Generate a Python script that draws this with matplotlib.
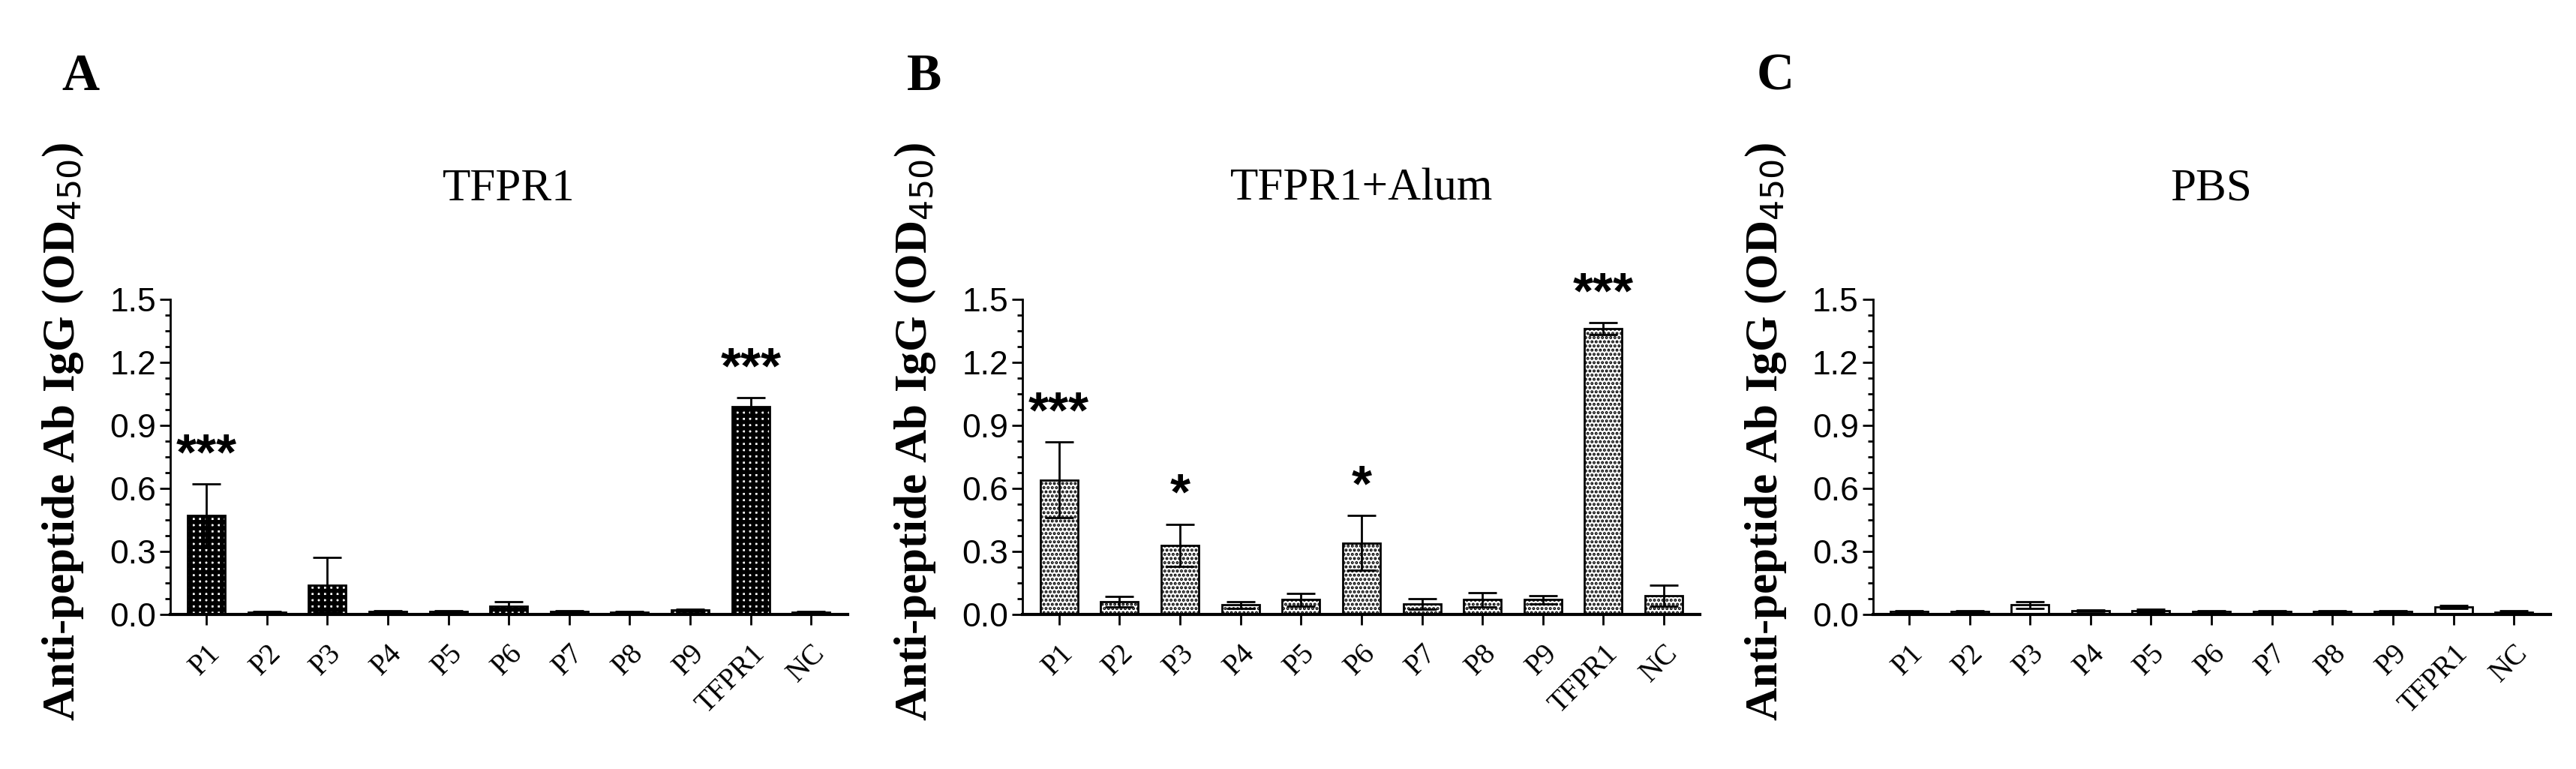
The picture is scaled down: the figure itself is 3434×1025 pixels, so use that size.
import numpy as np
import matplotlib
matplotlib.use('Agg')
import matplotlib.pyplot as plt
from matplotlib.ticker import AutoMinorLocator

categories = ['P1', 'P2', 'P3', 'P4', 'P5', 'P6', 'P7', 'P8', 'P9', 'TFPR1', 'NC']

titles = ['TFPR1', 'TFPR1+Alum', 'PBS']
letters = ['A', 'B', 'C']

vals_a = [0.47, 0.012, 0.14, 0.015, 0.015, 0.04, 0.015, 0.012, 0.02, 0.99, 0.01]
err_a = [0.15, 0.003, 0.13, 0.004, 0.004, 0.02, 0.003, 0.003, 0.005, 0.04, 0.004]
stars_a = ['***', '', '', '', '', '', '', '', '', '***', '']

vals_b = [0.64, 0.06, 0.33, 0.045, 0.07, 0.34, 0.05, 0.07, 0.07, 1.36, 0.09]
err_b = [0.18, 0.025, 0.10, 0.015, 0.03, 0.13, 0.025, 0.035, 0.02, 0.03, 0.05]
stars_b = ['***', '', '*', '', '', '*', '', '', '', '***', '']

vals_c = [0.015, 0.015, 0.045, 0.018, 0.018, 0.015, 0.015, 0.015, 0.015, 0.035, 0.012]
err_c = [0.003, 0.003, 0.015, 0.004, 0.006, 0.003, 0.003, 0.003, 0.003, 0.008, 0.004]
stars_c = [''] * 11

panels = [(vals_a, err_a, stars_a, '++', 4.0),
          (vals_b, err_b, stars_b, '...', 2.0),
          (vals_c, err_c, stars_c, None, 1.0)]

serif = 'Liberation Serif'
sans = 'Liberation Sans'

fig = plt.figure(figsize=(34.34, 10.25), dpi=100)
lefts = [0.066, 0.397, 0.727]
letter_x = [0.024, 0.352, 0.682]

for i, (vals, errs, stars, hatch, hlw) in enumerate(panels):
    plt.rcParams['hatch.linewidth'] = hlw
    ax = fig.add_axes([lefts[i], 0.201, 0.263, 0.41])
    x = np.arange(len(categories))
    ax.bar(x, vals, width=0.62, color='white', edgecolor='black', linewidth=2,
           hatch=hatch, zorder=2)
    ax.errorbar(x, vals, yerr=errs, fmt='none', ecolor='black', elinewidth=2,
                capsize=14, capthick=2, zorder=3)
    for xi, v, e, s in zip(x, vals, errs, stars):
        if s:
            ax.text(xi, v + e + 0.02, s, ha='center', va='bottom', fontsize=50,
                    family=sans, fontweight='bold')
    ax.set_xlim(-0.6, len(categories) - 0.4)
    ax.set_ylim(0, 1.5)
    ax.set_yticks([0.0, 0.3, 0.6, 0.9, 1.2, 1.5])
    ax.set_yticklabels(['0.0', '0.3', '0.6', '0.9', '1.2', '1.5'], family=sans, fontsize=32)
    ax.yaxis.set_minor_locator(AutoMinorLocator(4))
    ax.set_xticks(x)
    ax.set_xticklabels(categories, rotation=45, ha='right', rotation_mode='anchor',
                       family=serif, fontsize=28)
    ax.tick_params(axis='y', which='major', length=10, width=2)
    ax.tick_params(axis='y', which='minor', length=5, width=2)
    ax.tick_params(axis='x', length=10, width=2, pad=14)
    for side in ['top', 'right']:
        ax.spines[side].set_visible(False)
    ax.spines['left'].set_linewidth(2)
    ax.spines['bottom'].set_linewidth(3)
    ax.set_ylabel('Anti-peptide Ab IgG (OD$_{450}$)', family=serif, fontweight='bold',
                  fontsize=44)
    ax.yaxis.set_label_coords(-0.125, 0.58)
    ax.set_title(titles[i], family=serif, fontsize=44, pad=95)
    fig.text(letter_x[i], 0.9, letters[i], family=serif, fontweight='bold', fontsize=50,
             va='center')

fig.savefig('out.png', dpi=100)
